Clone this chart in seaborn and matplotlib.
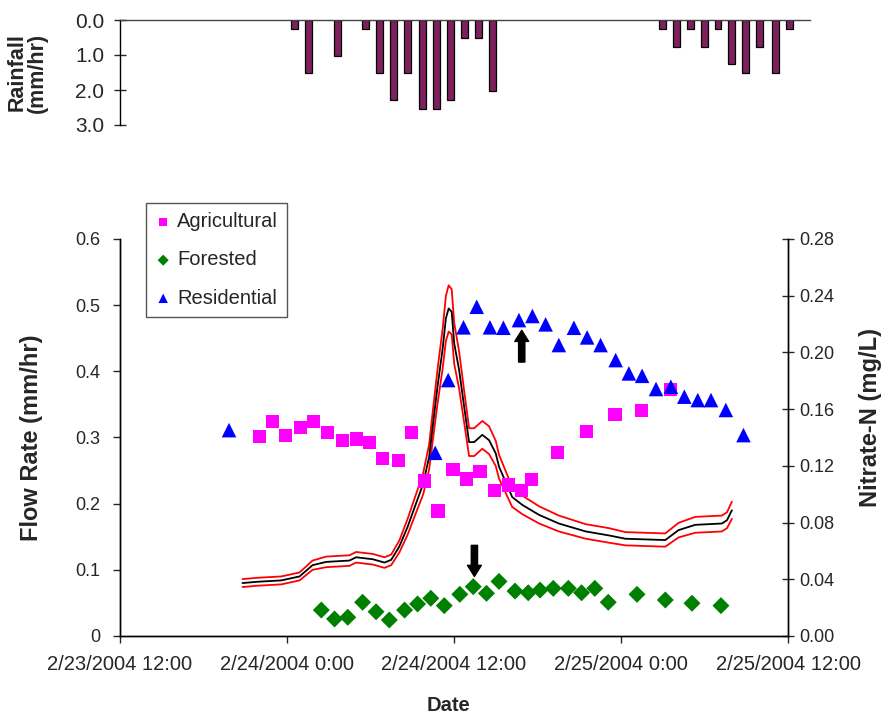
import pandas as pd
import numpy as np
import seaborn as sns
import matplotlib
matplotlib.use("Agg")
import matplotlib.pyplot as plt
import matplotlib.dates as mdates
from matplotlib.ticker import FuncFormatter

# rainfall (mm/hr), hourly tipping bucket
rain_time = ["2004-02-24 00:30", "2004-02-24 01:30", "2004-02-24 03:36", "2004-02-24 05:36",
             "2004-02-24 06:36", "2004-02-24 07:36", "2004-02-24 08:36", "2004-02-24 09:42",
             "2004-02-24 10:42", "2004-02-24 11:42", "2004-02-24 12:42", "2004-02-24 13:42",
             "2004-02-24 14:42", "2004-02-25 02:54", "2004-02-25 03:54", "2004-02-25 04:54",
             "2004-02-25 05:54", "2004-02-25 06:54", "2004-02-25 07:54", "2004-02-25 08:54",
             "2004-02-25 09:54", "2004-02-25 11:00", "2004-02-25 12:00"]
rain = [0.254, 1.524, 1.016, 0.254, 1.524, 2.286, 1.524, 2.54, 2.54, 2.286, 0.508, 0.508,
        2.032, 0.254, 0.762, 0.254, 0.762, 0.254, 1.27, 1.524, 0.762, 1.524, 0.254]

# flow rate (mm/hr) with upper / lower bounds
flow_time = ["2004-02-23 20:48", "2004-02-23 21:53", "2004-02-23 23:35", "2004-02-24 00:54",
             "2004-02-24 01:50", "2004-02-24 02:49", "2004-02-24 04:29", "2004-02-24 04:58",
             "2004-02-24 06:10", "2004-02-24 07:00", "2004-02-24 07:29", "2004-02-24 08:04",
             "2004-02-24 08:40", "2004-02-24 09:16", "2004-02-24 09:47", "2004-02-24 10:13",
             "2004-02-24 10:28", "2004-02-24 10:49", "2004-02-24 11:11", "2004-02-24 11:25",
             "2004-02-24 11:37", "2004-02-24 11:50", "2004-02-24 12:01", "2004-02-24 12:22",
             "2004-02-24 12:44", "2004-02-24 13:05", "2004-02-24 13:27", "2004-02-24 14:02",
             "2004-02-24 14:31", "2004-02-24 15:00", "2004-02-24 15:14", "2004-02-24 16:11",
             "2004-02-24 16:55", "2004-02-24 18:07", "2004-02-24 19:32", "2004-02-24 21:28",
             "2004-02-24 23:08", "2004-02-25 00:19", "2004-02-25 03:11", "2004-02-25 04:08",
             "2004-02-25 05:20", "2004-02-25 07:15", "2004-02-25 07:37", "2004-02-25 07:58"]
flow = [0.080, 0.082, 0.084, 0.090, 0.107, 0.112, 0.114, 0.119, 0.116, 0.111, 0.115, 0.135,
        0.165, 0.200, 0.230, 0.271, 0.316, 0.377, 0.434, 0.480, 0.495, 0.490, 0.442, 0.402,
        0.346, 0.293, 0.293, 0.304, 0.296, 0.276, 0.256, 0.210, 0.198, 0.183, 0.170, 0.158,
        0.152, 0.147, 0.145, 0.160, 0.168, 0.170, 0.175, 0.190]
flow_hi = [0.086, 0.088, 0.090, 0.096, 0.114, 0.120, 0.122, 0.127, 0.124, 0.119, 0.123, 0.144,
           0.177, 0.214, 0.246, 0.290, 0.338, 0.403, 0.464, 0.514, 0.530, 0.524, 0.473, 0.430,
           0.370, 0.314, 0.314, 0.325, 0.317, 0.295, 0.274, 0.225, 0.212, 0.196, 0.182, 0.169,
           0.163, 0.157, 0.155, 0.171, 0.180, 0.182, 0.187, 0.203]
flow_lo = [0.074, 0.076, 0.078, 0.084, 0.100, 0.104, 0.106, 0.111, 0.108, 0.103, 0.107, 0.126,
           0.153, 0.186, 0.214, 0.252, 0.294, 0.351, 0.404, 0.446, 0.460, 0.456, 0.411, 0.374,
           0.322, 0.272, 0.272, 0.283, 0.275, 0.257, 0.238, 0.195, 0.184, 0.170, 0.158, 0.147,
           0.141, 0.137, 0.135, 0.149, 0.156, 0.158, 0.163, 0.177]

# nitrate-N (mg/L)
ag_time = ["2004-02-23 22:00", "2004-02-23 22:57", "2004-02-23 23:54", "2004-02-24 00:58",
           "2004-02-24 01:56", "2004-02-24 02:53", "2004-02-24 04:00", "2004-02-24 04:58",
           "2004-02-24 05:55", "2004-02-24 06:50", "2004-02-24 07:59", "2004-02-24 08:56",
           "2004-02-24 09:53", "2004-02-24 10:51", "2004-02-24 11:56", "2004-02-24 12:54",
           "2004-02-24 13:52", "2004-02-24 14:54", "2004-02-24 15:54", "2004-02-24 16:52",
           "2004-02-24 17:34", "2004-02-24 19:28", "2004-02-24 21:32", "2004-02-24 23:34",
           "2004-02-25 01:30", "2004-02-25 03:33"]
ag_no3 = [0.1405, 0.151, 0.1417, 0.147, 0.151, 0.1433, 0.1377, 0.139, 0.1366, 0.1253, 0.124,
          0.1433, 0.1093, 0.0881, 0.1175, 0.1107, 0.1161, 0.1024, 0.1065, 0.1024, 0.1105,
          0.1295, 0.1445, 0.1565, 0.159, 0.174]

fo_time = ["2004-02-24 02:28", "2004-02-24 03:25", "2004-02-24 04:22", "2004-02-24 05:26",
           "2004-02-24 06:24", "2004-02-24 07:21", "2004-02-24 08:27", "2004-02-24 09:23",
           "2004-02-24 10:20", "2004-02-24 11:18", "2004-02-24 12:25", "2004-02-24 13:23",
           "2004-02-24 14:20", "2004-02-24 15:14", "2004-02-24 16:23", "2004-02-24 17:20",
           "2004-02-24 18:11", "2004-02-24 19:08", "2004-02-24 20:13", "2004-02-24 21:10",
           "2004-02-24 22:07", "2004-02-24 23:05", "2004-02-25 01:09", "2004-02-25 03:11",
           "2004-02-25 05:06", "2004-02-25 07:11"]
fo_no3 = [0.0183, 0.012, 0.0132, 0.0238, 0.0171, 0.0113, 0.0183, 0.0226, 0.0266, 0.0214,
          0.0294, 0.0348, 0.0301, 0.0385, 0.0317, 0.0305, 0.0324, 0.0336, 0.0336, 0.0305,
          0.0336, 0.0238, 0.0294, 0.0254, 0.0231, 0.0214]

re_time = ["2004-02-23 19:50", "2004-02-24 10:39", "2004-02-24 11:35", "2004-02-24 12:41",
           "2004-02-24 13:38", "2004-02-24 14:35", "2004-02-24 15:33", "2004-02-24 16:40",
           "2004-02-24 17:38", "2004-02-24 18:35", "2004-02-24 19:32", "2004-02-24 20:37",
           "2004-02-24 21:34", "2004-02-24 22:32", "2004-02-24 23:37", "2004-02-25 00:34",
           "2004-02-25 01:31", "2004-02-25 02:31", "2004-02-25 03:35", "2004-02-25 04:33",
           "2004-02-25 05:31", "2004-02-25 06:28", "2004-02-25 07:32", "2004-02-25 08:48"]
re_no3 = [0.1452, 0.1292, 0.1805, 0.2177, 0.2322, 0.2177, 0.2174, 0.2228, 0.2257, 0.2198,
          0.2052, 0.2174, 0.2106, 0.2052, 0.1946, 0.1852, 0.1835, 0.1742, 0.1758, 0.1688,
          0.1664, 0.1664, 0.1594, 0.1417]

# arrows (time, tail flow, head flow)
up_arrow = ("2004-02-24 16:52", 0.414, 0.462)
down_arrow = ("2004-02-24 13:28", 0.137, 0.090)

t0 = pd.Timestamp("2004-02-23 12:00")
t1 = pd.Timestamp("2004-02-25 12:00")

sns.set_theme(style="ticks")
plt.rcParams["font.family"] = ["Liberation Sans", "DejaVu Sans"]
plt.rcParams["axes.edgecolor"] = "black"
plt.rcParams["axes.linewidth"] = 1.0

fig = plt.figure(figsize=(8.82, 7.14), dpi=100)
W, H = 882, 714

# ---- rainfall panel ----
ax_r = fig.add_axes([120 / W, 1 - 125 / H, 690 / W, 105 / H])
rx = mdates.date2num(pd.to_datetime(rain_time))
ax_r.bar(rx, rain, width=0.5 / 24, color="#7E1F5E", edgecolor="black", linewidth=0.9, align="center")
ax_r.set_xlim(mdates.date2num(t0), mdates.date2num(t0 + pd.Timedelta(hours=49.5)))
ax_r.set_ylim(3, 0)
ax_r.set_yticks([0, 1, 2, 3])
ax_r.yaxis.set_major_formatter(FuncFormatter(lambda v, p: f"{v:.1f}"))
ax_r.set_xticks([])
for s in ["bottom", "right"]:
    ax_r.spines[s].set_visible(False)
ax_r.spines["top"].set_color("#444444")
ax_r.tick_params(axis="y", direction="inout", length=9, width=1, labelsize=15, pad=7)
ax_r.set_ylabel("Rainfall\n(mm/hr)", fontsize=15.5, fontweight="bold", linespacing=0.95)
ax_r.yaxis.set_label_coords(-0.105, 0.5)

# ---- flow / nitrate panel ----
ax1 = fig.add_axes([120 / W, 1 - 636 / H, 668 / W, 397 / H])
ft = pd.to_datetime(flow_time)
sns.lineplot(x=ft, y=flow_hi, ax=ax1, color="#FF0000", lw=1.3)
sns.lineplot(x=ft, y=flow_lo, ax=ax1, color="#FF0000", lw=1.3)
sns.lineplot(x=ft, y=flow, ax=ax1, color="black", lw=1.3)

ax1.set_xlim(t0, t1)
ax1.set_ylim(0, 0.6)
ax1.set_yticks(np.arange(0, 0.61, 0.1))
ax1.yaxis.set_major_formatter(FuncFormatter(lambda v, p: "0" if abs(v) < 1e-9 else f"{v:.1f}"))
ax1.set_xticks(pd.date_range(t0, t1, freq="12h"))


def date_fmt(v, p):
    d = mdates.num2date(v)
    return f"{d.month}/{d.day}/{d.year} {d.hour}:{d.minute:02d}"


ax1.xaxis.set_major_formatter(FuncFormatter(date_fmt))
ax1.spines["top"].set_visible(False)
ax1.tick_params(axis="y", direction="out", length=5, width=1, labelsize=13, pad=9)
ax1.tick_params(axis="x", direction="out", length=5, width=1, labelsize=14.5, pad=9)
ax1.set_xlabel("Date", fontsize=14.5, fontweight="bold")
ax1.set_ylabel("Flow Rate (mm/hr)", fontsize=17, fontweight="bold")
ax1.yaxis.set_label_coords(-0.116, 0.5)
ax1.xaxis.set_label_coords(0.4925, -0.152)

for (t, y0, y1) in [up_arrow, down_arrow]:
    tx = mdates.date2num(pd.Timestamp(t))
    ax1.annotate("", xy=(tx, y1), xytext=(tx, y0),
                 arrowprops=dict(facecolor="black", edgecolor="black", width=4.5,
                                 headwidth=10, headlength=8, shrink=0))

ax2 = ax1.twinx()
sns.scatterplot(x=pd.to_datetime(ag_time), y=ag_no3, ax=ax2, marker="s", s=90,
                color="#FF00FF", edgecolor="none", label="Agricultural")
sns.scatterplot(x=pd.to_datetime(fo_time), y=fo_no3, ax=ax2, marker="D", s=75,
                color="#008000", edgecolor="none", label="Forested")
sns.scatterplot(x=pd.to_datetime(re_time), y=re_no3, ax=ax2, marker="^", s=110,
                color="#0000FF", edgecolor="none", label="Residential")
ax2.set_xlim(t0, t1)
ax2.set_ylim(0, 0.28)
ax2.set_yticks(np.arange(0, 0.281, 0.04))
ax2.yaxis.set_major_formatter(FuncFormatter(lambda v, p: f"{v:.2f}"))
ax2.spines["top"].set_visible(False)
ax2.tick_params(axis="y", direction="inout", length=8, width=1, labelsize=13, pad=4)
ax2.set_ylabel("Nitrate-N (mg/L)", fontsize=17, fontweight="bold")
ax2.yaxis.set_label_coords(1.107, 0.55)

leg = ax2.legend(loc="upper left", bbox_to_anchor=(0.039, 1.09), frameon=True,
                 fancybox=False, edgecolor="#555555", framealpha=1, fontsize=14.5,
                 markerscale=0.65, handletextpad=0.3, labelspacing=0.95,
                 borderpad=0.45, handlelength=0.8, borderaxespad=0)
leg.get_frame().set_linewidth(1.0)

fig.savefig("out.png", dpi=100)
